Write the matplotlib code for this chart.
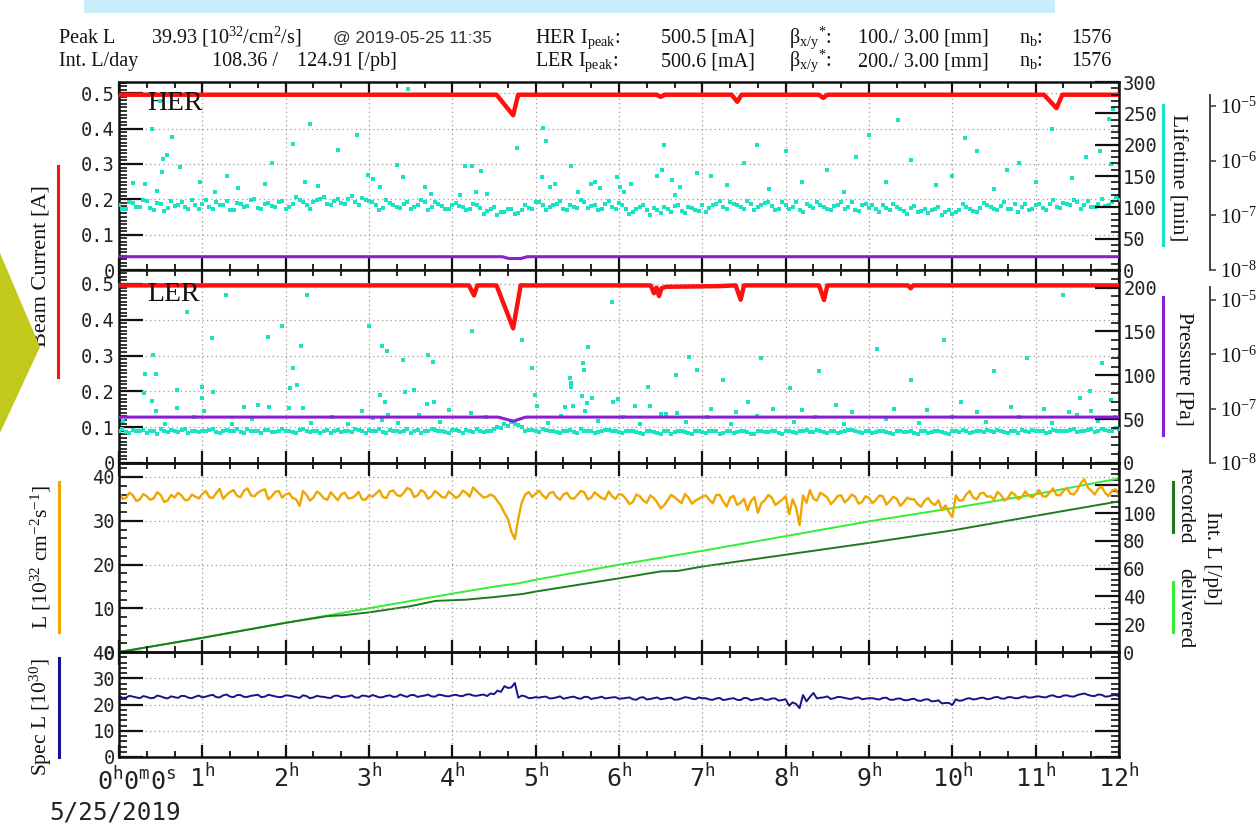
import numpy as np
import matplotlib
matplotlib.use('Agg')
import matplotlib.pyplot as plt
from matplotlib.ticker import MultipleLocator, FuncFormatter, FixedLocator, FixedFormatter, NullLocator
from matplotlib.lines import Line2D
from matplotlib.patches import Polygon, Rectangle

plt.rcParams['mathtext.default'] = 'regular'

# ------------------------------------------------------------------ data
# 5-minute sample grid (hours since 00:00 on 5/25/2019) and the in-between 2.5-minute samples
time_h = np.arange(145) / 12.0
time_b = time_h[:-1] + 1 / 24.0

# beam currents [A] (breakpoints)
her_cur_t = [0, 4.53, 4.73, 4.79, 6.45, 6.5, 6.55, 7.35, 7.42, 7.47, 8.4, 8.45, 8.5, 11.1, 11.25, 11.32, 12]
her_cur_v = [0.496, 0.496, 0.438, 0.496, 0.496, 0.490, 0.496, 0.496, 0.476, 0.496, 0.496, 0.487, 0.496,
             0.496, 0.458, 0.496, 0.496]
ler_cur_t = [0, 4.2, 4.26, 4.3, 4.53, 4.73, 4.82, 6.38, 6.42, 6.45, 6.48, 6.51, 6.56, 7.2, 7.4, 7.46, 7.5,
             8.4, 8.46, 8.5, 9.47, 9.5, 9.53, 12]
ler_cur_v = [0.496, 0.496, 0.468, 0.496, 0.496, 0.376, 0.496, 0.496, 0.474, 0.49, 0.466, 0.488, 0.492,
             0.494, 0.496, 0.456, 0.496, 0.496, 0.455, 0.496, 0.496, 0.488, 0.496, 0.496]

# vacuum pressure [Pa]
her_p_t = [0, 4.6, 4.68, 4.82, 4.9, 12]
her_p_v = [1.75e-8, 1.75e-8, 1.62e-8, 1.62e-8, 1.75e-8, 1.75e-8]
ler_p_t = [0, 4.55, 4.73, 4.88, 12]
ler_p_v = [7.0e-8, 7.0e-8, 5.9e-8, 7.0e-8, 7.0e-8]

# beam lifetime [min], main band (5-minute grid and 2.5-minute offsets)
her_life = [104, 98, 107, 101, 110, 96, 105, 99, 102, 108, 97, 104, 106,
            100, 109, 103, 96, 107, 101, 111, 99, 105, 102, 108, 97,
            106, 111, 103, 109, 114, 105, 110, 107, 113, 108, 115, 110,
            104, 99, 107, 101, 105, 97, 103, 108, 100, 106, 98, 104,
            102, 96, 105, 99, 94, 101, 92, 98, 90, 95, 99, 108,
            103, 100, 106, 97, 104, 99, 108, 102, 96, 105, 100, 107,
            98, 93, 101, 95, 99, 91, 97, 102, 94, 100, 96, 103,
            99, 106, 101, 108, 103, 97, 105, 100, 107, 102, 98, 104,
            101, 95, 106, 99, 104, 97, 102, 108, 100, 96, 103, 99,
            98, 104, 96, 101, 94, 99, 92, 97, 95, 100, 93, 90,
            96, 101, 94, 99, 103, 97, 102, 98, 105, 100, 96, 103,
            99, 105, 101, 107, 103, 109, 104, 100, 106, 102, 108, 112]
her_life_b = [97, 109, 101, 112, 99, 107, 94, 110, 103, 100, 111, 98,
              112, 97, 104, 110, 95, 106, 102, 113, 98, 107, 101, 110,
              101, 116, 108, 98, 112, 117, 103, 114, 106, 118, 104, 112,
              109, 95, 111, 103, 99, 108, 101, 112, 96, 109, 102, 97,
              107, 100, 97, 104, 89, 97, 87, 93, 97, 91, 104, 97,
              109, 95, 103, 110, 96, 101, 111, 99, 103, 97, 110, 98,
              104, 90, 97, 103, 88, 95, 100, 93, 104, 91, 99, 94,
              93, 103, 110, 98, 106, 101, 110, 96, 104, 109, 95, 108,
              97, 108, 93, 102, 109, 100, 95, 104, 97, 109, 94, 105,
              103, 93, 99, 106, 97, 89, 102, 94, 91, 98, 88, 95,
              92, 106, 97, 93, 107, 100, 95, 108, 97, 93, 106, 98,
              106, 96, 111, 99, 105, 112, 97, 110, 101, 113, 104, 116]
ler_life = [37, 35, 38, 36, 34, 37, 39, 35, 36, 38, 34, 37, 36,
            38, 35, 37, 36, 39, 34, 37, 36, 38, 35, 37, 36,
            35, 38, 36, 37, 34, 38, 36, 35, 37, 39, 36, 38,
            37, 35, 38, 36, 37, 34, 38, 36, 39, 37, 35, 38,
            36, 38, 35, 37, 36, 39, 40, 42, 44, 41, 38, 37,
            39, 37, 35, 36, 38, 34, 36, 37, 35, 38, 36, 35,
            37, 36, 34, 37, 35, 33, 36, 35, 37, 34, 36, 35,
            37, 36, 34, 37, 35, 36, 33, 36, 35, 37, 34, 36,
            35, 36, 38, 35, 37, 34, 36, 35, 38, 36, 34, 37,
            35, 36, 34, 37, 35, 36, 33, 37, 35, 36, 34, 36,
            35, 37, 35, 36, 38, 35, 37, 34, 36, 38, 35, 37,
            36, 35, 37, 36, 38, 35, 37, 39, 36, 38, 37, 39]
ler_life_b = [39, 34, 36, 38, 36, 33, 37, 38, 35, 39, 36, 35,
              36, 39, 34, 38, 36, 35, 39, 37, 34, 38, 35, 39,
              37, 34, 39, 35, 37, 36, 34, 38, 36, 35, 38, 34,
              36, 39, 34, 37, 35, 39, 37, 34, 36, 38, 36, 34,
              38, 34, 37, 39, 35, 37, 41, 45, 47, 43, 36, 38,
              35, 38, 37, 34, 37, 35, 39, 36, 34, 37, 38, 36,
              34, 37, 35, 33, 36, 34, 37, 33, 36, 35, 33, 36,
              34, 37, 33, 36, 34, 37, 35, 33, 36, 35, 37, 33,
              37, 34, 37, 35, 38, 35, 37, 34, 36, 38, 35, 36,
              34, 37, 35, 33, 37, 35, 34, 36, 34, 37, 35, 33,
              36, 38, 34, 37, 35, 36, 38, 35, 37, 34, 36, 38,
              37, 34, 38, 36, 37, 39, 36, 38, 35, 39, 36, 40]

# scattered lifetime readings away from the band
her_out_t = [0.17, 0.31, 0.39, 0.45, 0.49, 0.52, 0.53, 0.57, 0.63, 0.73, 0.97, 1.15, 1.29, 1.43, 1.75,
             1.84, 2.09, 2.23, 2.29, 2.39, 2.63, 2.86, 2.99, 3.05, 3.13, 3.33, 3.41, 3.47, 3.67, 3.74,
             4.09, 4.15, 4.23, 4.28, 4.34, 4.42, 4.78, 5.07, 5.09, 5.12, 5.17, 5.23, 5.42, 5.51, 5.66,
             5.71, 5.77, 5.98, 6.01, 6.06, 6.14, 6.46, 6.52, 6.54, 6.64, 6.67, 6.73, 6.93, 7.1, 7.3,
             7.5, 7.65, 7.8, 8.0, 8.2, 8.5, 8.7, 8.85, 9.0, 9.2, 9.35, 9.5, 9.8, 10.0, 10.15, 10.3,
             10.5, 10.65, 10.8, 11.0, 11.2, 11.44, 11.6, 11.77, 11.88, 11.9, 11.93]
her_out_v = [139, 137, 225, 126, 270, 156, 177, 184, 213, 164, 140, 125, 150, 131, 137,
             170, 201, 141, 233, 134, 191, 215, 152, 145, 133, 168, 149, 289, 133, 121,
             119, 166, 166, 125, 158, 121, 194, 149, 227, 206, 133, 138, 166, 125, 138,
             140, 131, 148, 132, 125, 137, 150, 160, 199, 144, 120, 133, 154, 150, 135,
             170, 200, 130, 190, 140, 160, 125, 180, 215, 140, 240, 175, 135, 150, 210, 190,
             130, 160, 170, 140, 225, 147, 180, 190, 241, 169, 257]
ler_out_t = [0.3, 0.31, 0.39, 0.41, 0.44, 0.44, 0.69, 0.7, 0.81, 0.99, 1.0, 1.02, 1.12, 1.13, 1.28,
             1.5, 1.67, 1.79, 1.8, 1.95, 2.04, 2.05, 2.09, 2.14, 2.18, 2.21, 2.25, 2.91, 3.0, 3.13,
             3.15, 3.16, 3.19, 3.21, 3.23, 3.41, 3.43, 3.54, 3.69, 3.71, 3.77, 3.78, 3.96, 4.22, 4.23,
             4.84, 4.96, 4.99, 5.01, 5.35, 5.41, 5.42, 5.42, 5.45, 5.55, 5.57, 5.58, 5.59, 5.61, 5.63,
             5.67, 5.92, 5.93, 5.99, 6.19, 6.35, 6.37, 6.56, 6.68, 6.69, 6.84, 6.94, 7.1, 7.25, 7.4,
             7.55, 7.7, 7.85, 8.05, 8.2, 8.4, 8.6, 8.8, 9.1, 9.3, 9.5, 9.7, 9.9, 10.1, 10.3,
             10.5, 10.7, 10.9, 11.1, 11.33, 11.4, 11.53, 11.65, 11.66, 11.8, 11.9,
             0.05, 0.55, 0.9, 1.35, 1.6, 2.3, 2.55, 2.75, 3.05, 3.35, 3.6, 3.85, 4.4, 5.15, 5.3,
             5.75, 6.05, 6.25, 6.5, 6.8, 7.05, 7.35, 7.65, 8.1, 8.35, 8.7, 9.2, 9.6, 10.0, 10.4,
             10.8, 11.2, 11.5, 11.75, 11.95]
ler_out_v = [80, 102, 71, 123, 102, 59, 62.5, 83, 172, 86.5, 74, 59, 142.5, 81, 192,
             64, 66, 144, 64, 156, 62.5, 85, 108, 89, 133, 62.5, 192, 59, 156, 78,
             49, 133, 70, 128, 55, 117, 81, 83, 67, 123, 115, 69, 60.5, 57, 150,
             140, 108, 78, 65, 64, 97, 91, 86.5, 65, 76, 114, 105.5, 59, 68, 132,
             74, 184, 70, 73, 65.5, 86.5, 65.5, 55.6, 100.5, 57, 121, 105.5, 62, 95, 58,
             70, 120, 62, 85, 60, 105, 66, 58, 130, 62, 95, 60, 140, 70, 58,
             105, 64, 120, 62, 192, 58, 74, 82, 59, 114, 72,
             48, 45, 52, 44, 50, 46, 53, 44, 51, 46, 55, 47, 52, 46, 54,
             48, 52, 45, 56, 47, 52, 45, 54, 47, 52, 45, 50, 46, 52, 47,
             53, 46, 55, 48, 52]

# instantaneous luminosity [1e32 cm^-2 s^-1]
lumi = [36.5, 35.2, 35.8, 34.9, 35.6, 35.1, 35.9, 34.6, 35.3, 35.8, 34.8, 35.5, 36.1,
        35.4, 36.3, 35.0, 36.6, 35.7, 36.9, 35.8, 36.4, 37.2, 35.6, 36.8, 36.0,
        35.2, 33.4, 35.9, 35.3, 36.1, 34.8, 35.6, 36.0, 35.1, 35.7, 34.9, 35.8,
        36.2, 35.4, 36.7, 35.9, 36.4, 37.1, 35.8, 36.5, 35.6, 36.2, 35.3, 36.0,
        35.7, 36.4, 37.6, 36.0, 35.5, 35.6, 33.4, 30.4, 25.8, 34.2, 36.6, 36.2,
        35.8, 36.3, 35.4, 36.0, 35.2, 35.9, 36.5, 35.3, 35.8, 34.9, 35.6, 36.1,
        35.0, 34.3, 35.6, 34.1, 35.2, 32.8, 34.7, 35.4, 34.0, 35.3, 34.6, 35.5,
        34.8, 35.9, 34.4, 35.2, 33.6, 35.0, 34.5, 31.8, 34.7, 35.3, 34.2, 35.6,
        34.9, 29.0, 34.1, 35.0, 36.4, 35.3, 34.6, 35.8, 34.9, 35.5, 34.3, 35.2,
        34.8, 35.6, 34.5, 35.0, 34.2, 34.9, 33.8, 34.6, 34.1, 34.7, 33.5, 30.8,
        34.6, 36.0, 35.3, 36.2, 35.5, 34.8, 35.9, 35.2, 36.0, 35.4, 35.8, 36.1,
        35.6, 36.4, 35.9, 36.8, 36.2, 37.0, 39.5, 36.9, 37.3, 36.4, 36.9, 35.8]
lumi_b = [35.0, 36.4, 34.5, 36.1, 34.8, 36.5, 34.3, 35.9, 36.4, 34.7, 36.0, 35.1,
          36.8, 35.2, 37.3, 35.9, 37.0, 35.4, 37.4, 35.6, 36.9, 34.9, 36.6, 35.3,
          36.3, 34.9, 36.8, 34.6, 36.7, 35.1, 36.5, 34.7, 36.4, 35.2, 36.6, 34.8,
          35.5, 37.0, 35.2, 36.9, 35.6, 37.5, 35.4, 37.0, 35.0, 36.8, 35.4, 36.7,
          35.2, 36.9, 35.5, 36.8, 35.3, 36.0, 34.5, 31.8, 27.5, 30.5, 36.0, 35.4,
          36.9, 35.1, 36.6, 34.8, 36.4, 35.0, 36.8, 34.9, 36.5, 35.2, 36.7, 35.0,
          35.9, 33.8, 36.0, 34.6, 35.8, 34.2, 33.5, 35.9, 34.7, 36.1, 33.9, 35.0,
          35.8, 34.0, 35.9, 33.2, 35.7, 34.1, 32.4, 35.4, 34.0, 35.9, 33.6, 34.8,
          31.5, 33.0, 35.8, 37.0, 34.6, 35.9, 33.8, 35.7, 34.2, 36.0, 33.9, 35.6,
          34.0, 35.8, 33.7, 35.5, 33.4, 35.3, 34.9, 33.2, 35.2, 33.6, 32.4, 32.0,
          35.8, 34.7, 36.8, 34.9, 36.4, 35.6, 36.6, 34.6, 36.5, 34.9, 36.7, 35.3,
          37.0, 35.5, 37.4, 35.8, 37.5, 36.0, 38.6, 37.6, 36.0, 37.8, 35.6, 37.2]

# integrated luminosity [/pb]
deliv_t = [0, 1, 2, 3, 4, 4.5, 4.8, 5, 6, 7, 8, 9, 10, 11, 12]
deliv_v = [0, 10.2, 21, 31.5, 42, 47, 49.5, 52, 62.8, 72.8, 83.4, 94, 103.5, 113.5, 124.9]
rec_t = [0, 1, 2, 2.5, 2.7, 3, 3.5, 3.8, 4.15, 4.5, 4.85, 5, 6, 6.5, 6.7, 7, 8, 9, 10, 11, 12]
rec_v = [0, 10.2, 21, 25.8, 26.5, 28.5, 33, 36.8, 37.6, 39.5, 41.8, 43.5, 53, 58, 58.3, 61.5, 70,
         78.5, 87.5, 98, 108.4]

# specific luminosity [1e30]
spec_l = [23.2, 22.6, 23.0, 22.4, 22.9, 22.5, 23.1, 22.3, 22.8, 23.3, 22.6, 23.0, 22.7,
          23.4, 22.8, 23.5, 23.0, 23.6, 22.9, 23.3, 23.7, 23.0, 23.4, 22.8, 23.5,
          23.1, 22.5, 23.2, 22.7, 23.0, 22.6, 23.3, 22.8, 23.1, 22.7, 23.4, 22.9,
          23.2, 22.8, 23.5, 23.0, 23.3, 23.6, 22.9, 23.4, 23.1, 23.7, 23.2, 23.5,
          23.3, 23.8, 23.4, 23.6, 23.2, 23.9, 24.8, 26.3, 28.2, 23.4, 22.4, 22.8,
          22.9, 22.3, 22.7, 22.2, 22.8, 22.4, 22.9, 22.1, 22.6, 22.3, 22.7, 22.2,
          22.5, 22.0, 22.6, 21.9, 22.4, 22.0, 22.5, 21.8, 22.3, 22.6, 22.0, 22.4,
          21.9, 22.3, 21.7, 22.2, 21.8, 22.5, 21.6, 22.1, 21.8, 22.3, 21.5, 22.0,
          20.8, 18.6, 21.2, 24.4, 22.6, 23.1, 22.4, 22.8, 22.2, 22.6, 22.0, 22.4,
          22.1, 22.5, 21.8, 22.2, 21.7, 22.0, 21.5, 21.9, 21.2, 21.6, 20.6, 19.8,
          21.4, 22.2, 21.9, 22.5, 22.0, 22.7, 22.3, 22.8, 22.4, 22.9, 22.6, 23.0,
          22.8, 23.3, 22.9, 23.4, 23.1, 23.6, 24.2, 23.3, 23.8, 23.0, 23.5, 23.2]
spec_l_b = [22.5, 23.3, 22.7, 23.2, 22.4, 23.4, 22.6, 23.1, 22.5, 23.2, 22.4, 23.4,
            23.0, 23.7, 22.7, 23.8, 22.8, 23.6, 22.9, 23.5, 22.8, 23.7, 23.1, 22.9,
            23.4, 22.8, 23.5, 22.4, 23.3, 22.9, 22.5, 23.4, 22.9, 23.5, 22.6, 23.3,
            23.6, 22.7, 23.3, 22.9, 23.8, 22.9, 23.6, 23.2, 23.8, 23.0, 23.6, 23.1,
            23.7, 23.2, 23.9, 23.3, 23.8, 24.2, 25.3, 27.0, 26.5, 22.6, 23.1, 22.5,
            22.6, 23.0, 22.4, 23.1, 22.5, 23.0, 22.2, 22.9, 22.4, 23.0, 22.5, 22.8,
            22.3, 22.7, 21.8, 22.8, 22.1, 22.7, 22.2, 22.6, 21.9, 22.8, 22.2, 22.7,
            22.4, 21.8, 22.5, 21.9, 22.4, 21.7, 22.4, 21.9, 22.5, 21.8, 22.3, 21.7,
            19.5, 20.2, 23.6, 22.9, 22.3, 22.7, 22.1, 22.9, 22.5, 22.1, 22.7, 22.2,
            22.4, 21.9, 22.6, 21.8, 22.3, 21.6, 22.2, 21.4, 22.0, 21.3, 20.4, 20.6,
            22.0, 21.6, 22.4, 22.1, 22.6, 22.2, 22.9, 22.2, 22.8, 22.4, 23.1, 22.7,
            23.1, 22.7, 23.5, 22.8, 23.5, 23.0, 23.9, 23.7, 23.2, 23.7, 23.1, 23.6]

hour_ticks = list(range(13))
hour_labels = [''] + [r'$%d^{h}$' % h for h in range(1, 13)]
log_ticks = [1e-8, 1e-7, 1e-6, 1e-5]
log_labels = [r'$10^{-8}$', r'$10^{-7}$', r'$10^{-6}$', r'$10^{-5}$']

for a in (her_life, ler_life, lumi, spec_l):
    assert len(a) == 145
for a in (her_life_b, ler_life_b, lumi_b, spec_l_b):
    assert len(a) == 144
assert len(her_out_t) == len(her_out_v) and len(ler_out_t) == len(ler_out_v)

# merged (time-ordered) traces for the noisy lines
t_all = np.concatenate([time_h, time_b])
order = np.argsort(t_all, kind='stable')
t_line = t_all[order]
lumi_line = np.concatenate([lumi, lumi_b])[order]
spec_line = np.concatenate([spec_l, spec_l_b])[order]

# ------------------------------------------------------------------ style
W, H = 1258, 824
SERIF = 'Liberation Serif'
MONO = 'DejaVu Sans Mono'
RED = '#FF1010'
PURPLE = '#8A1FD0'
CYAN = '#19E3C3'
ORANGE = '#F0A500'
LGREEN = '#33EE33'
DGREEN = '#1F7A1F'
NAVY = '#14148C'
INK = '#111111'

fig = plt.figure(figsize=(W / 100, H / 100), dpi=100)


def rect(top, bottom):
    return [119 / W, 1 - bottom / H, 1000 / W, (bottom - top) / H]


def fx(x):
    return x / W


def fy(y):
    return 1 - y / H


def style_main(ax, ymax, major, minor, fmt, right_ticks=False):
    ax.set_xlim(0, 12)
    ax.set_ylim(0, ymax)
    ax.xaxis.set_major_locator(MultipleLocator(1))
    ax.xaxis.set_minor_locator(MultipleLocator(1 / 3))
    ax.yaxis.set_major_locator(MultipleLocator(major))
    ax.yaxis.set_minor_locator(MultipleLocator(minor))
    ax.yaxis.set_major_formatter(FuncFormatter(fmt))
    ax.tick_params(axis='x', which='both', direction='in', top=True, bottom=True,
                   labelbottom=False, color=INK)
    ax.tick_params(axis='x', which='major', length=9, width=1.6)
    ax.tick_params(axis='x', which='minor', length=4, width=1.3)
    ax.tick_params(axis='y', which='both', direction='in', left=True, right=right_ticks,
                   labelright=False, color=INK, labelsize=13.5, labelfontfamily=MONO,
                   labelcolor='#222222', pad=3)
    ax.tick_params(axis='y', which='major', length=17, width=1.6)
    ax.tick_params(axis='y', which='minor', length=5.5, width=1.2)
    ax.grid(True, which='major', color='#9a9a9a', linestyle=(0, (1, 2.5)), linewidth=0.9)
    for s in ax.spines.values():
        s.set_linewidth(1.8)
        s.set_color(INK)


def twin_right(ax, ymax, major, minor):
    t = ax.twinx()
    t.set_ylim(0, ymax)
    t.yaxis.set_major_locator(MultipleLocator(major))
    t.yaxis.set_minor_locator(MultipleLocator(minor))
    t.yaxis.set_major_formatter(FuncFormatter(lambda v, p: '%d' % round(v)))
    t.tick_params(axis='y', which='both', direction='in', color=INK, labelsize=13.5,
                  labelfontfamily=MONO, labelcolor='#222222', pad=3)
    t.tick_params(axis='y', which='major', length=17, width=1.6)
    t.tick_params(axis='y', which='minor', length=5.5, width=1.2)
    for s in t.spines.values():
        s.set_visible(False)
    return t


def twin_log(ax, ytop, spine_top):
    t = ax.twinx()
    t.set_yscale('log')
    t.set_ylim(1e-8, ytop)
    for k, s in t.spines.items():
        s.set_visible(k == 'right')
    sp = t.spines['right']
    sp.set_position(('outward', 91 * 0.72))
    sp.set_bounds(1e-8, spine_top)
    sp.set_color('#444444')
    sp.set_linewidth(1.4)
    t.yaxis.set_major_locator(FixedLocator(log_ticks))
    t.yaxis.set_minor_locator(NullLocator())
    t.yaxis.set_major_formatter(FixedFormatter(log_labels))
    t.tick_params(axis='y', which='major', direction='out', length=4, width=1.2, color='#444444',
                  labelsize=14.5, labelfontfamily=SERIF, labelcolor='#111111', pad=3)
    return t


def fmt_1(v, p):
    return '0' if abs(v) < 1e-9 else '%.1f' % v


def fmt_0(v, p):
    return '%d' % round(v)


ax1 = fig.add_axes(rect(82, 270))
ax2 = fig.add_axes(rect(270, 463))
ax3 = fig.add_axes(rect(463, 652))
ax4 = fig.add_axes(rect(652, 757))

# ---- panel 1: HER
style_main(ax1, 0.532, 0.1, 0.01, fmt_1)
ax1r = twin_right(ax1, 300, 50, 10)
ax1l = twin_log(ax1, 10 ** -4.563, 10 ** -4.8)
ax1.plot(her_cur_t, her_cur_v, color=RED, lw=3.2, zorder=3)
ax1r.scatter(time_h, her_life, s=11, marker='s', color=CYAN, linewidths=0)
ax1r.scatter(time_b, her_life_b, s=11, marker='s', color=CYAN, linewidths=0)
ax1r.scatter(her_out_t, her_out_v, s=8, marker='s', color=CYAN, linewidths=0)
ax1l.plot(her_p_t, her_p_v, color=PURPLE, lw=2.2)
ax1.text(0.336, 0.470, 'HER', family=SERIF, fontsize=20, va='center', ha='left', color='#111111')

# ---- panel 2: LER
style_main(ax2, 0.539, 0.1, 0.01, fmt_1)
ax2r = twin_right(ax2, 220, 50, 10)
ax2l = twin_log(ax2, 10 ** -4.446, 10 ** -4.76)
ax2.plot(ler_cur_t, ler_cur_v, color=RED, lw=3.2, zorder=3)
ax2r.scatter(time_h, ler_life, s=12, marker='s', color=CYAN, linewidths=0)
ax2r.scatter(time_b, ler_life_b, s=12, marker='s', color=CYAN, linewidths=0)
ax2r.scatter(ler_out_t, ler_out_v, s=10, marker='s', color=CYAN, linewidths=0)
ax2l.plot(ler_p_t, ler_p_v, color=PURPLE, lw=2.2)
ax2.text(0.336, 0.4707, 'LER', family=SERIF, fontsize=20, va='center', ha='left', color='#111111')

# ---- panel 3: luminosity
style_main(ax3, 43.2, 10, 2, fmt_0)
ax3r = twin_right(ax3, 136, 20, 4)
ax3r.plot(deliv_t, deliv_v, color=LGREEN, lw=1.4)
ax3r.plot(rec_t, rec_v, color=DGREEN, lw=1.4)
ax3.set_zorder(ax3r.get_zorder() + 1)
ax3.patch.set_visible(False)
ax3.plot(t_line, lumi_line, color=ORANGE, lw=1.7)

# ---- panel 4: specific luminosity
style_main(ax4, 40, 10, 2, fmt_0, right_ticks=True)
ax4.plot(t_line, spec_line, color=NAVY, lw=1.4)
ax4.xaxis.set_major_locator(FixedLocator(hour_ticks))
ax4.xaxis.set_major_formatter(FixedFormatter(hour_labels))
ax4.tick_params(axis='x', which='major', labelbottom=True, labelsize=18, labelfontfamily=MONO,
                labelcolor='#222222', pad=5)

fig.text(fx(97), fy(781), r'$0^{h}0^{m}0^{s}$', family=MONO, fontsize=18, ha='left', va='center',
         color='#222222')
fig.text(fx(49), fy(812), '5/25/2019', family=MONO, fontsize=17.5, ha='left', va='center',
         color='#222222')

# ---- header
hdr = dict(family=SERIF, fontsize=14.5, va='baseline', ha='left', color='#111111')
y1, y2 = fy(43), fy(66)
fig.text(fx(59), y1, 'Peak L', **hdr)
fig.text(fx(151), y1, r'39.93 [10$^{32}$/cm$^{2}$/s]', **hdr)
fig.text(fx(333), y1, '@ 2019-05-25 11:35', family='Liberation Sans', fontsize=12.5,
         va='baseline', ha='left', color='#333333')
fig.text(fx(535), y1, r'HER I$_{peak}$:', **hdr)
fig.text(fx(661), y1, '500.5 [mA]', **hdr)
fig.text(fx(789), y1, r'β$_{x/y}$$^{*}$:', **hdr)
fig.text(fx(858), y1, '100./ 3.00 [mm]', **hdr)
fig.text(fx(1019), y1, r'n$_{b}$:', **hdr)
fig.text(fx(1071), y1, '1576', **hdr)
fig.text(fx(59), y2, 'Int. L/day', **hdr)
fig.text(fx(212), y2, '108.36 /', **hdr)
fig.text(fx(297), y2, '124.91 [/pb]', **hdr)
fig.text(fx(535), y2, r'LER I$_{peak}$:', **hdr)
fig.text(fx(661), y2, '500.6 [mA]', **hdr)
fig.text(fx(789), y2, r'β$_{x/y}$$^{*}$:', **hdr)
fig.text(fx(858), y2, '200./ 3.00 [mm]', **hdr)
fig.text(fx(1019), y2, r'n$_{b}$:', **hdr)
fig.text(fx(1071), y2, '1576', **hdr)

# ---- side labels
lab = dict(family=SERIF, color='#111111', ha='center', va='center')
fig.text(fx(41), fy(266), 'Beam Current [A]', rotation=90, fontsize=16, **lab)
fig.text(fx(41), fy(557), r'L [10$^{32}$ cm$^{-2}$s$^{-1}$]', rotation=90, fontsize=15.5, **lab)
fig.text(fx(41), fy(717), r'Spec L [10$^{30}$]', rotation=90, fontsize=15.5, **lab)
fig.text(fx(1177), fy(178), 'Lifetime [min]', rotation=270, fontsize=15.5, **lab)
fig.text(fx(1184), fy(369), 'Pressure [Pa]', rotation=270, fontsize=15.5, **lab)
fig.text(fx(1185), fy(506), 'recorded', rotation=270, fontsize=15.5, **lab)
fig.text(fx(1211), fy(558), 'Int. L [/pb]', rotation=270, fontsize=15.5, **lab)
fig.text(fx(1185), fy(608), 'delivered', rotation=270, fontsize=15.5, **lab)

for x, y0, y1_, c in [(58, 166, 377, RED), (59, 482, 632, ORANGE), (59, 658, 757, NAVY),
                      (1163, 105, 245, CYAN), (1163, 297, 435, PURPLE),
                      (1173, 482, 532, DGREEN), (1173, 582, 632, LGREEN)]:
    fig.add_artist(Line2D([fx(x), fx(x)], [fy(y0), fy(y1_)], color=c, lw=2.2))

# ---- slide decorations
fig.add_artist(Rectangle((fx(84), fy(13)), (1055 - 84) / W, 13 / H, transform=fig.transFigure,
                         color='#C9EDFB', lw=0, zorder=0))
fig.add_artist(Polygon([[0, fy(253)], [fx(40), fy(347)], [0, fy(433)]], closed=True,
                       transform=fig.transFigure, color='#C3C91C', lw=0, zorder=10))

fig.savefig('out.png', dpi=100)
